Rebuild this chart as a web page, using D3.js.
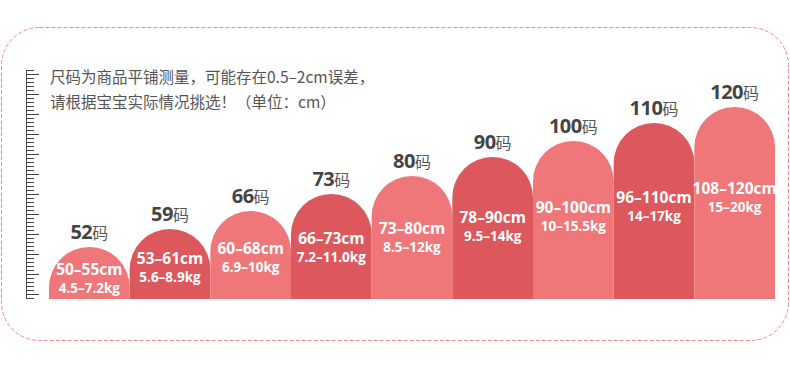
<!DOCTYPE html>
<html>
<head>
<meta charset="utf-8">
<script src="https://cdn.jsdelivr.net/npm/d3@7"></script>
<style>
	body { margin: 0; background: #fff; }
	svg { display: block; }
</style>
</head>
<body>
<div id="chart"></div>
<script>
// size chart data
var sizes = ["52", "59", "66", "73", "80", "90", "100", "110", "120"];
var heightRanges = ["50–55cm", "53–61cm", "60–68cm", "66–73cm", "73–80cm", "78–90cm", "90–100cm", "96–110cm", "108–120cm"];
var weightRanges = ["4.5–7.2kg", "5.6–8.9kg", "6.9–10kg", "7.2–11.0kg", "8.5–12kg", "9.5–14kg", "10–15.5kg", "14–17kg", "15–20kg"];
// bar heights
var barLevels = [52, 70, 88, 105, 123, 142, 158, 176, 192];
var noteLines = ["尺码为商品平铺测量，可能存在0.5–2cm误差，", "请根据宝宝实际情况挑选！（单位：cm）"];

var width = 790;
var height = 368;
var lightColor = "#f07779";
var darkColor = "#dc585d";
var latinFont = "'Open Sans', Roboto, sans-serif";

var svg = d3.select("#chart").append("svg")
	.attr("width", width)
	.attr("height", height);

// dashed frame
svg.append("rect")
	.attr("x", 1.5)
	.attr("y", 27.5)
	.attr("width", 787)
	.attr("height", 313)
	.attr("rx", 38)
	.attr("fill", "none")
	.attr("stroke", "#f08a8a")
	.attr("stroke-width", 1)
	.attr("stroke-dasharray", "4,2");

var xScale = d3.scaleBand()
	.domain(sizes)
	.range([49, 775])
	.padding(0);

var yScale = d3.scaleLinear()
	.domain([0, d3.max(barLevels)])
	.range([299, 107]);

// ruler on the left
var rulerScale = d3.scaleLinear()
	.domain([-1, 56])
	.range([298, 70]);

var minorAxis = d3.axisRight(rulerScale)
	.tickValues(d3.range(-1, 57))
	.tickSize(8)
	.tickSizeOuter(0)
	.tickFormat("");

var majorAxis = d3.axisRight(rulerScale)
	.tickValues(d3.range(0, 57, 5))
	.tickSize(13)
	.tickSizeOuter(0)
	.tickFormat("");

var ruler = svg.append("g").attr("transform", "translate(26,0)");
ruler.append("g").attr("class", "minor").call(minorAxis);
ruler.append("g").attr("class", "major").call(majorAxis);
ruler.selectAll("path, line").attr("stroke", "#444");

// note text
svg.selectAll("text.note")
	.data(noteLines)
	.enter()
	.append("text")
	.attr("class", "note")
	.attr("x", 50)
	.attr("y", function(d, i) { return 83 + i * 25; })
	.attr("font-family", "'Noto Sans CJK SC', 'Noto Sans', sans-serif")
	.attr("font-size", 15.5)
	.attr("fill", "#555")
	.text(function(d) { return d; });

function archPath(d, i) {
	var x0 = xScale(sizes[i]);
	var x1 = x0 + xScale.bandwidth();
	var r = xScale.bandwidth() / 2;
	var top = yScale(d);
	var bottom = yScale(0);
	return "M" + x0 + "," + bottom +
		"V" + (top + r) +
		"A" + r + "," + r + " 0 0 1 " + x1 + "," + (top + r) +
		"V" + bottom + "Z";
}

function centerX(i) {
	return xScale(sizes[i]) + xScale.bandwidth() / 2;
}

// where the first text line sits inside a bar
function innerY(d) {
	var top = yScale(d);
	return top + 0.42 * (yScale(0) - top) + 6;
}

// bars
svg.selectAll("path.bar")
	.data(barLevels)
	.enter()
	.append("path")
	.attr("class", "bar")
	.attr("d", archPath)
	.attr("fill", function(d, i) { return i % 2 ? darkColor : lightColor; });

// size labels above bars
var labels = svg.selectAll("text.size-label")
	.data(barLevels)
	.enter()
	.append("text")
	.attr("class", "size-label")
	.attr("x", function(d, i) { return centerX(i); })
	.attr("y", function(d) { return yScale(d) - 8.5; })
	.attr("text-anchor", "middle")
	.attr("fill", "#444");

labels.append("tspan")
	.attr("font-family", latinFont)
	.attr("font-weight", 700)
	.attr("font-size", 20)
	.attr("letter-spacing", -0.5)
	.text(function(d, i) { return sizes[i]; });

labels.append("tspan")
	.attr("font-family", "'Noto Sans CJK SC', sans-serif")
	.attr("font-size", 16)
	.attr("fill", "#555")
	.text("码");

// height range inside bars
svg.selectAll("text.height-range")
	.data(barLevels)
	.enter()
	.append("text")
	.attr("class", "height-range")
	.attr("x", function(d, i) { return centerX(i); })
	.attr("y", innerY)
	.attr("text-anchor", "middle")
	.attr("font-family", latinFont)
	.attr("font-weight", 700)
	.attr("font-size", 15.5)
	.attr("fill", "#fff")
	.text(function(d, i) { return heightRanges[i]; });

// weight range inside bars
svg.selectAll("text.weight-range")
	.data(barLevels)
	.enter()
	.append("text")
	.attr("class", "weight-range")
	.attr("x", function(d, i) { return centerX(i); })
	.attr("y", function(d) { return innerY(d) + 18; })
	.attr("text-anchor", "middle")
	.attr("font-family", latinFont)
	.attr("font-weight", 700)
	.attr("font-size", 13.5)
	.attr("fill", "#fff")
	.text(function(d, i) { return weightRanges[i]; });
</script>
</body>
</html>
